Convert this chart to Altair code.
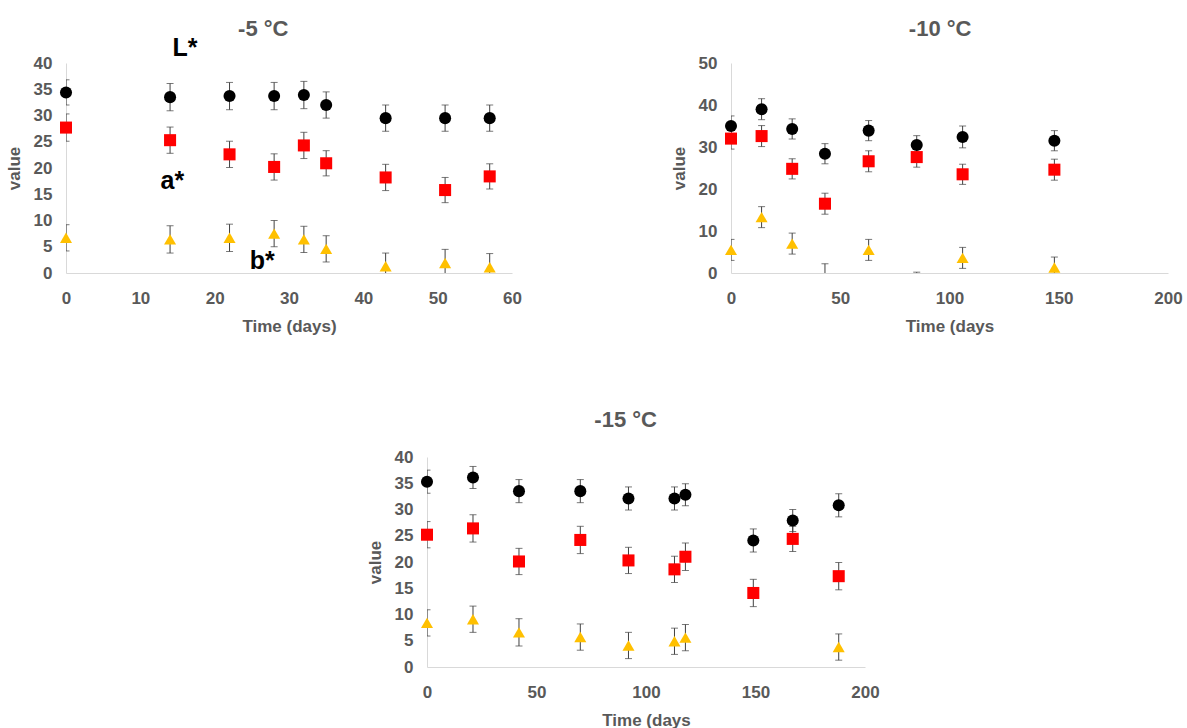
import altair as alt
import pandas as pd

FONT = "Liberation Sans Narrow, Arial Narrow, Liberation Sans, Arial, sans-serif"
GRAY = "#595959"

# ---------- -5 °C ----------
d5_days = [0, 14, 22, 28, 32, 35, 43, 51, 57]
d5_L = [34.4, 33.5, 33.7, 33.7, 33.9, 32.0, 29.5, 29.5, 29.5]
d5_L_err = [2.4, 2.6, 2.6, 2.6, 2.6, 2.5, 2.5, 2.5, 2.5]
d5_a = [27.7, 25.3, 22.6, 20.2, 24.3, 20.9, 18.2, 15.8, 18.4]
d5_a_err = [2.6, 2.5, 2.5, 2.5, 2.5, 2.4, 2.5, 2.4, 2.4]
d5_b = [6.7, 6.4, 6.7, 7.5, 6.4, 4.6, 1.3, 1.9, 1.1]
d5_b_err = [2.5, 2.6, 2.6, 2.5, 2.5, 2.5, 2.5, 2.6, 2.6]

# ---------- -10 °C ----------
d10_days = [0, 14, 28, 43, 63, 85, 106, 148]
d10_L = [35.0, 39.0, 34.3, 28.4, 33.9, 30.5, 32.4, 31.5]
d10_L_err = [2.4, 2.5, 2.4, 2.4, 2.4, 2.2, 2.6, 2.4]
d10_a = [32.0, 32.6, 24.8, 16.5, 26.6, 27.6, 23.5, 24.6]
d10_a_err = [2.5, 2.5, 2.4, 2.5, 2.5, 2.4, 2.4, 2.5]
d10_b = [5.5, 13.3, 7.0, -0.4, 5.5, -2.3, 3.6, 1.3]
d10_b_err = [2.5, 2.5, 2.5, 2.6, 2.5, 2.5, 2.5, 2.5]

# ---------- -15 °C ----------
d15_days = [0, 21, 42, 70, 92, 113, 118, 149, 167, 188]
d15_L = [35.3, 36.1, 33.5, 33.5, 32.1, 32.1, 32.8, 24.1, 27.9, 30.8]
d15_L_err = [2.2, 2.1, 2.2, 2.2, 2.2, 2.2, 2.1, 2.2, 2.1, 2.2]
d15_a = [25.2, 26.4, 20.1, 24.2, 20.3, 18.6, 21.0, 14.1, 24.4, 17.3]
d15_a_err = [2.5, 2.6, 2.5, 2.6, 2.5, 2.5, 2.6, 2.6, 2.4, 2.6]
d15_b_days = [0, 21, 42, 70, 92, 113, 118, 188]
d15_b = [8.4, 9.1, 6.6, 5.7, 4.1, 4.9, 5.6, 3.8]
d15_b_err = [2.5, 2.5, 2.6, 2.5, 2.5, 2.5, 2.5, 2.5]

SERIES = ["L*", "a*", "b*"]
COLORS = ["#000000", "#FF0000", "#FFC000"]
SHAPES = ["circle", "square", "triangle-up"]


def long(parts):
    rows = []
    for name, days, vals, errs in parts:
        for d, v, e in zip(days, vals, errs):
            rows.append({"day": d, "value": v, "lo": v - e, "hi": v + e, "series": name})
    return pd.DataFrame(rows)


df5 = long([("L*", d5_days, d5_L, d5_L_err), ("a*", d5_days, d5_a, d5_a_err), ("b*", d5_days, d5_b, d5_b_err)])
df10 = long([("L*", d10_days, d10_L, d10_L_err), ("a*", d10_days, d10_a, d10_a_err), ("b*", d10_days, d10_b, d10_b_err)])
df15 = long([("L*", d15_days, d15_L, d15_L_err), ("a*", d15_days, d15_a, d15_a_err), ("b*", d15_b_days, d15_b, d15_b_err)])

ann_labels = ["L*", "a*", "b*"]
ann_days = [16.0, 14.3, 26.4]
ann_vals = [42.9, 17.5, 2.3]
ann_df = pd.DataFrame({"label": ann_labels, "day": ann_days, "value": ann_vals})


def panel(df, title, xmax, xstep, ymax, ystep, xtitle, w, h, toff, tdx=0, ann=None):
    xs = alt.Scale(domain=[0, xmax], nice=False, zero=True)
    ys = alt.Scale(domain=[0, ymax], nice=False, zero=True)
    xax = alt.Axis(values=list(range(0, xmax + 1, xstep)), title=xtitle, labelFlush=False)
    yax = alt.Axis(values=list(range(0, ymax + 1, ystep)), title="value", labelFlush=False)
    base = alt.Chart(df)
    X = alt.X("day:Q", scale=xs, axis=xax)
    rules = base.mark_rule(color="#404040", strokeWidth=1, clip=True).encode(
        x=X, y=alt.Y("lo:Q", scale=ys, axis=yax), y2="hi:Q")
    cap_hi = base.mark_tick(orient="horizontal", color="#404040", size=7, thickness=1, clip=True).encode(
        x=X, y=alt.Y("hi:Q", scale=ys, axis=yax))
    cap_lo = base.mark_tick(orient="horizontal", color="#404040", size=7, thickness=1, clip=True).encode(
        x=X, y=alt.Y("lo:Q", scale=ys, axis=yax))
    pts = base.transform_filter("datum.value >= 0").mark_point(
        filled=True, size=145, opacity=1).encode(
        x=X,
        y=alt.Y("value:Q", scale=ys, axis=yax),
        color=alt.Color("series:N", scale=alt.Scale(domain=SERIES, range=COLORS), legend=None),
        shape=alt.Shape("series:N", scale=alt.Scale(domain=SERIES, range=SHAPES), legend=None),
    )
    layers = [rules, cap_hi, cap_lo, pts]
    if ann is not None:
        txt = alt.Chart(ann).mark_text(fontSize=25, fontWeight="bold", font=FONT, color="black").encode(
            x=alt.X("day:Q", scale=xs, axis=xax), y=alt.Y("value:Q", scale=ys, axis=yax), text="label:N")
        layers.append(txt)
    return alt.layer(*layers).properties(
        width=w, height=h,
        title=alt.TitleParams(title, fontSize=22, font=FONT, fontWeight="bold", color=GRAY,
                              offset=toff, frame="bounds", anchor="middle", dx=tdx),
    )


p1 = panel(df5, "-5 °C", 60, 10, 40, 5, "Time (days)", 446, 210, -5, 0, ann_df)
p2 = panel(df10, "-10 °C", 200, 50, 50, 10, "Time  (days", 437, 210, 13, 14)
p3 = panel(df15, "-15 °C", 200, 50, 40, 5, "Time  (days", 438, 210, 16, 3)

spacer = alt.Chart(pd.DataFrame({"d": [0]})).mark_point(opacity=0).encode(
    x=alt.value(0), y=alt.value(0)).properties(width=300, height=10)

row1 = alt.hconcat(p1, p2, spacing=148)
row2 = alt.hconcat(spacer, p3, spacing=0)

chart = alt.vconcat(row1, row2, spacing=75).properties(
    padding={"left": 5, "top": 17, "right": 0, "bottom": 0}
).configure_view(stroke=None).configure_axis(
    grid=False, ticks=False, domainColor="#d9d9d9", domainWidth=1,
    labelFont=FONT, labelFontSize=17, labelFontWeight="bold", labelColor=GRAY,
    titleFont=FONT, titleFontSize=17, titleFontWeight="bold", titleColor=GRAY,
).configure_axisX(labelPadding=17, titlePadding=12).configure_axisY(labelPadding=14, titlePadding=10)

chart.save("out.html", embed_options={"renderer": "svg", "actions": False})
